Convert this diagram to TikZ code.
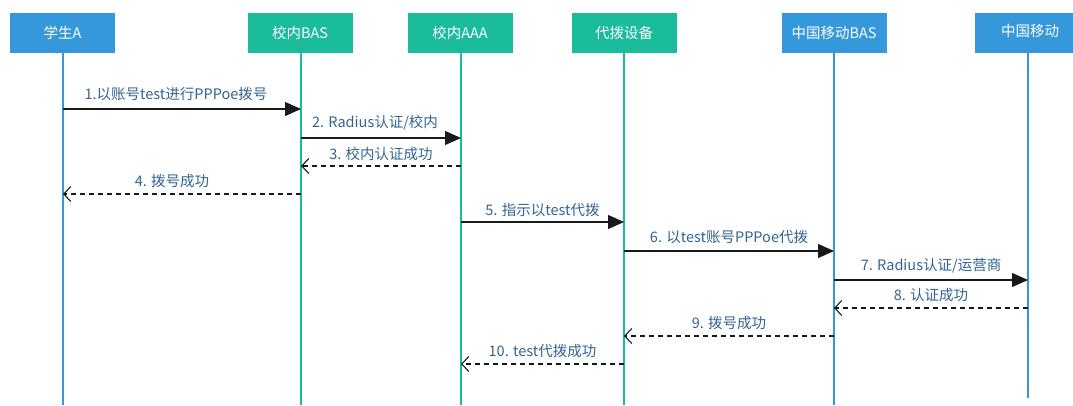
\documentclass[tikz,border=0pt]{standalone}
\usepackage{fontspec}
\setmainfont{Noto Sans CJK SC}
\usetikzlibrary{arrows.meta}
\definecolor{bblue}{RGB}{52,152,219}
\definecolor{bgreen}{RGB}{26,188,156}
\definecolor{lbl}{RGB}{50,100,145}
\definecolor{arr}{RGB}{25,25,25}
\tikzset{
  x=1pt,y=1pt,
  actor/.style={minimum width=105pt,minimum height=40pt,inner sep=0pt,text=white,font=\fontsize{14.5}{16}\selectfont,anchor=north},
  blueact/.style={actor,fill=bblue},
  greenact/.style={actor,fill=bgreen},
  lifeb/.style={draw=bblue,line width=1.4pt},
  lifeg/.style={draw=bgreen,line width=1.4pt},
  msg/.style={draw=arr,line width=1.2pt,-{Triangle[length=16pt,width=14pt]}},
  ret/.style={draw=arr,line width=1.1pt,dash pattern=on 5pt off 4pt,-{Straight Barb[length=7pt,width=15pt,line width=1.1pt]}},
  lab/.style={text=lbl,font=\fontsize{14.5}{16}\selectfont,inner sep=0pt}
}
\begin{document}
\begin{tikzpicture}
\useasboundingbox (0,0) rectangle (1073,405);
% lifelines
\coordinate (t1) at (63,352); \coordinate (b1) at (63,0);
\coordinate (t2) at (301,352); \coordinate (b2) at (301,0);
\coordinate (t3) at (461,352); \coordinate (b3) at (461,0);
\coordinate (t4) at (624,352); \coordinate (b4) at (624,0);
\coordinate (t5) at (834,352); \coordinate (b5) at (834,0);
\coordinate (t6) at (1028,352); \coordinate (b6) at (1028,7);
\draw[lifeb] (t1) -- (b1);
\draw[lifeg] (t2) -- (b2);
\draw[lifeg] (t3) -- (b3);
\draw[lifeg] (t4) -- (b4);
\draw[lifeb] (t5) -- (b5);
\draw[lifeb] (t6) -- (b6);
% actors
\node[blueact] (A) at (62.5,392) {学生A};
\node[greenact] (B) at (300,392) {校内BAS};
\node[greenact] (C) at (460,392) {校内AAA};
\node[greenact] (D) at (624,392) {代拨设备};
\node[blueact] (E) at (834,392) {中国移动BAS};
\node[blueact,minimum width=110pt,anchor=north west,text depth=6pt] (F) at (975,392) {中国移动};
% message anchors
\foreach \n/\y in {1/296,2/267,3/239,4/211,5/183,6/154,7/125,8/97,9/69,10/41}{
  \coordinate (L1-\n) at (63,\y);
  \coordinate (L2-\n) at (301,\y);
  \coordinate (L3-\n) at (461,\y);
  \coordinate (L4-\n) at (624,\y);
  \coordinate (L5-\n) at (834,\y);
  \coordinate (L6-\n) at (1028,\y);
}
\draw[msg] (L1-1) -- node[lab,above=8pt,xshift=-6pt] {1.以账号test进行PPPoe拨号} (L2-1);
\draw[msg] (L2-2) -- node[lab,above=7pt,xshift=-6pt] {2. Radius认证/校内} (L3-2);
\draw[ret] (L3-3) -- node[lab,above=5pt] {3. 校内认证成功} (L2-3);
\draw[ret] (L2-4) -- node[lab,above=6pt,xshift=-10pt] {4. 拨号成功} (L1-4);
\draw[msg] (L3-5) -- node[lab,above=5pt] {5. 指示以test代拨} (L4-5);
\draw[msg] (L4-6) -- node[lab,above=7pt] {6. 以test账号PPPoe代拨} (L5-6);
\draw[msg] (L5-7) -- node[lab,above=6pt] {7. Radius认证/运营商} (L6-7);
\draw[ret] (L6-8) -- node[lab,above=6pt] {8. 认证成功} (L5-8);
\draw[ret] (L5-9) -- node[lab,above=6pt] {9. 拨号成功} (L4-9);
\draw[ret] (L4-10) -- node[lab,above=6pt] {10. test代拨成功} (L3-10);
\end{tikzpicture}
\end{document}
